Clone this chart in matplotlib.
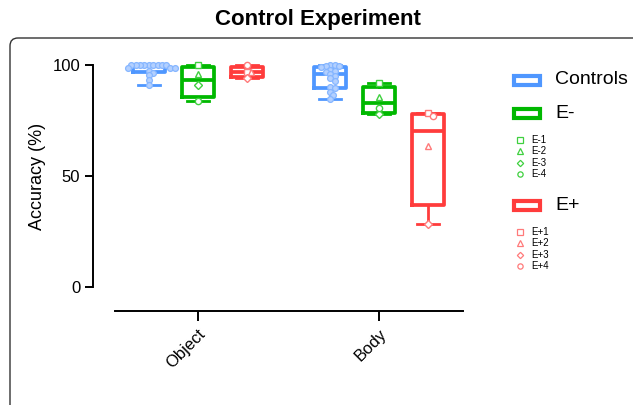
import numpy as np
import matplotlib.pyplot as plt
from matplotlib.patches import Rectangle, FancyBboxPatch

plt.rcParams['font.family'] = ['Liberation Sans', 'DejaVu Sans']

# ---- data ----
conditions = ['Object', 'Body']
groups = ['Controls', 'E-', 'E+']
patients = {'E-': ['E-1', 'E-2', 'E-3', 'E-4'], 'E+': ['E+1', 'E+2', 'E+3', 'E+4']}
patient_markers = ['s', '^', 'D', 'o']

controls_object = [100, 100, 100, 100, 100, 100, 100, 100, 100,
                   98.5, 98.5, 98.5, 97.5, 96.5, 95.5, 93.5, 91]
controls_body = [100, 100, 99.5, 99.5, 99, 98, 97.5, 97, 96, 95, 94, 93,
                 90, 89.5, 88, 86.5, 84.5]
eminus_object = [100, 96, 91, 84]      # E-1..E-4
eminus_body = [91.9, 85.7, 78, 80.5]
eplus_object = [97, 97, 94, 100]       # E+1..E+4
eplus_body = [78.2, 63.5, 28.4, 77]

data = {
    ('Object', 'Controls'): controls_object, ('Object', 'E-'): eminus_object,
    ('Object', 'E+'): eplus_object,
    ('Body', 'Controls'): controls_body, ('Body', 'E-'): eminus_body,
    ('Body', 'E+'): eplus_body,
}

colors = {'Controls': '#4f97ff', 'E-': '#00b800', 'E+': '#ff3c3c'}
pt_edge = {'Controls': '#86b6ff', 'E-': '#3fd03f', 'E+': '#ff7a7a'}
pt_face = {'Controls': '#b3d0ff', 'E-': 'white', 'E+': 'white'}

W, H = 633, 405
fig = plt.figure(figsize=(W / 100, H / 100), dpi=100)
fx = lambda px: px / W
fy = lambda py: 1 - py / H

# rounded frame
fig.add_artist(FancyBboxPatch((0.1, -1), 7, 4.67, boxstyle='round,pad=0,rounding_size=0.08',
                              transform=fig.dpi_scale_trans, fill=False,
                              edgecolor='#333333', lw=1))

ax = fig.add_axes([fx(115), fy(311), fx(463) - fx(115), fy(54) - fy(311)])
ax.set_xlim(-1.69, 5.41)
ax.set_ylim(-10.8, 105)

centers = [0, 3.7]
offsets = {'Controls': -1, 'E-': 0, 'E+': 1.0}
xpx = 49.0   # px per x unit
ypx = 2.22   # px per y unit
diam = 4.4


def swarm(vals):
    vals = np.asarray(vals, float)
    placed = []
    offs = np.zeros(len(vals))
    for i in np.argsort(-vals):
        y = vals[i] * ypx
        for k in range(80):
            dx = ((k + 1) // 2) * (1 if k % 2 else -1) * diam / 4
            if all((dx - px_) ** 2 + (y - py_) ** 2 >= diam ** 2 for px_, py_ in placed):
                break
        placed.append((dx, y))
        offs[i] = dx / xpx
    return offs


for cond, c0 in zip(conditions, centers):
    for g in groups:
        vals = np.asarray(data[(cond, g)], float)
        pos = c0 + offsets[g]
        q1, med, q3 = np.percentile(vals, [25, 50, 75], method='weibull')
        st = dict(med=med, q1=q1, q3=q3, whislo=vals.min(), whishi=vals.max(), fliers=[])
        col = colors[g]
        ax.bxp([st], positions=[pos], widths=0.65, showfliers=False, capwidths=0.45,
               boxprops=dict(color=col, lw=2.7), whiskerprops=dict(color=col, lw=2.0),
               capprops=dict(color=col, lw=2.0), medianprops=dict(color=col, lw=2.7),
               manage_ticks=False)
        offs = swarm(vals)
        if g == 'Controls':
            ax.plot(pos + offs, vals, 'o', ms=4.2, mfc=pt_face[g], mec=pt_edge[g],
                    mew=0.9, zorder=4, clip_on=False)
        else:
            for v, o, m in zip(vals, offs, patient_markers):
                ax.plot(pos + o, v, m, ms=4.5 if m != 'D' else 3.8, mfc=pt_face[g],
                        mec=pt_edge[g], mew=1.0, zorder=4, clip_on=False)

for s in ['top', 'right']:
    ax.spines[s].set_visible(False)
ax.spines['left'].set_bounds(0, 100)
ax.spines['left'].set_position(('outward', 16))
ax.spines['left'].set_linewidth(1.4)
ax.spines['bottom'].set_linewidth(1.4)
ax.set_yticks([0, 50, 100])
ax.set_xticks(centers)
ax.set_xticklabels(conditions, rotation=45, ha='right', rotation_mode='anchor')
ax.tick_params(axis='y', length=6, width=1.4, labelsize=12, pad=3)
ax.tick_params(axis='x', length=7, width=1.4, labelsize=12, pad=4)
ax.patch.set_alpha(0)

fig.text(fx(37), fy(176), 'Accuracy (%)', rotation=90, ha='center', va='center', fontsize=13)
fig.text(fx(318), fy(20), 'Control Experiment', ha='center', va='center',
         fontsize=16, fontweight='bold')

# legend
big_y = {'Controls': 80, 'E-': 113, 'E+': 205}
for g in groups:
    y = big_y[g]
    fig.add_artist(Rectangle((fx(514), fy(y + 4.5)), fx(26), fy(y - 4.5) - fy(y + 4.5),
                             transform=fig.transFigure, fill=False,
                             edgecolor=colors[g], lw=3))
    fig.text(fx(555), fy(y), g, ha='left', va='center', fontsize=14)
    if g in patients:
        for j, (name, m) in enumerate(zip(patients[g], patient_markers)):
            yy = y + 27 + j * 11.4
            fig.add_artist(plt.Line2D([fx(520)], [fy(yy)], marker=m,
                                      ms=3.8 if m != 'D' else 3.2, mfc='white',
                                      mec=pt_edge[g], mew=0.9, linestyle='none',
                                      transform=fig.transFigure))
            fig.text(fx(531), fy(yy), name, ha='left', va='center', fontsize=7)

fig.savefig('out.png', dpi=100)
